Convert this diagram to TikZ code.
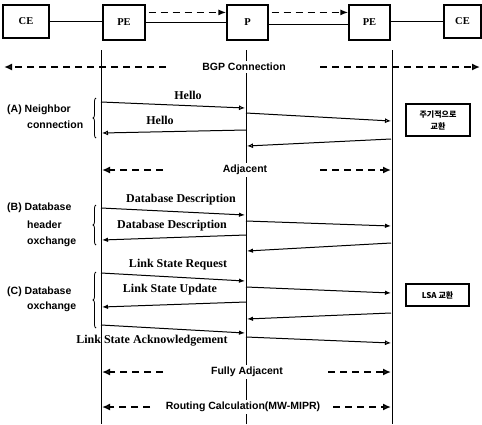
\documentclass[tikz,border=0pt]{standalone}
\usepackage{fontspec}
\setmainfont{Liberation Serif}
\setsansfont{Liberation Sans}
\newfontfamily\krfont{Noto Sans CJK KR}
\usetikzlibrary{arrows.meta,decorations.pathreplacing}
\begin{document}
\begin{tikzpicture}[x=1pt,y=-1pt,
  box/.style={draw,line width=1.2pt,inner sep=0pt,font=\bfseries\fontsize{10.5}{12}\selectfont},
  life/.style={line width=1pt},
  msg/.style={line width=1pt,-{Latex[length=6pt,width=4.5pt]}},
  hmsg/.style={line width=1pt,-{Latex[open,length=6pt,width=5pt]}},
  dsh/.style={line width=1.6pt,dash pattern=on 7pt off 5pt},
  dtip/.style={-{Latex[open,length=8pt,width=7pt]}},
  mlabel/.style={font=\bfseries\fontsize{12}{14}\selectfont,inner sep=0pt},
  slabel/.style={font=\sffamily\bfseries\fontsize{10.5}{12}\selectfont,inner sep=2pt,fill=white},
  seclabel/.style={font=\sffamily\bfseries\fontsize{10.5}{12}\selectfont,inner sep=0pt,anchor=west},
  brc/.style={decorate,decoration={brace,amplitude=3pt},line width=0.8pt},
  krbox/.style={draw,line width=1.2pt,inner sep=0pt,align=center,font=\krfont\bfseries\fontsize{8}{12}\selectfont}
]
\useasboundingbox (0,0) rectangle (482,424);

% top boxes
\node[box,minimum width=46pt,minimum height=33pt] (CE1) at (26,21.5) {CE};
\node[box,minimum width=42pt,minimum height=35pt] (PE1) at (124,22.5) {PE};
\node[box,minimum width=41pt,minimum height=35pt] (P) at (247.5,22.5) {P};
\node[box,minimum width=41pt,minimum height=35pt] (PE2) at (369.5,22.5) {PE};
\node[box,minimum width=37pt,minimum height=33pt] (CE2) at (462.5,21.5) {CE};

\draw[line width=1pt] (CE1.east) -- (CE1.east -| PE1.west);
\draw[line width=1pt] (PE1) -- (P);
\draw[line width=1pt] ([yshift=-2pt]P.east) -- ([yshift=-2pt]P.east -| PE2.west);
\draw[line width=1pt] (PE2.east |- CE2.west) -- (CE2.west);
\draw[dsh,-{Latex[length=8pt,width=6pt]}] ([xshift=3pt,yshift=-8pt]PE1.north east) -- ([yshift=-8pt]P.north west);
\draw[dsh,-{Latex[length=8pt,width=6pt]}] ([xshift=3pt,yshift=-8pt]P.north east) -- ([yshift=-8pt]PE2.north west);

% lifelines
\coordinate (Lt) at (101,50); \coordinate (Lb) at (101,424);
\coordinate (Mt) at (246,50); \coordinate (Mb) at (246,424);
\coordinate (Rt) at (392,50); \coordinate (Rb) at (392,424);
\draw[life] (Lt) -- (Lb);
\draw[life] (Mt) -- (Mb);
\draw[life] (Rt) -- (Rb);

% BGP connection
\node[slabel] (BGP) at (244,67) {BGP Connection};
\coordinate (bgpL1) at (166,67); \coordinate (bgpL2) at (4,67);
\coordinate (bgpR1) at (320,67); \coordinate (bgpR2) at (480,67);
\draw[dsh,dtip] (bgpL1) -- (bgpL2);
\draw[dsh,dtip] (bgpR1) -- (bgpR2);

% (A) Neighbor connection
\node[seclabel] (A1) at (7,110) {(A) Neighbor};
\node[seclabel] (A2) at (27,125) {connection};
\coordinate (bA1) at (96,138); \coordinate (bA2) at (96,98);
\draw[brc] (bA1) -- (bA2);

\coordinate (h1s) at (101,102); \coordinate (h1e) at (245,108);
\coordinate (h2s) at (246,113); \coordinate (h2e) at (391,121);
\coordinate (h3s) at (391,139); \coordinate (h3e) at (247,146);
\coordinate (h4s) at (246,130); \coordinate (h4e) at (102,133);
\draw[hmsg] (h1s) -- (h1e);
\draw[hmsg] (h2s) -- (h2e);
\draw[hmsg] (h3s) -- (h3e);
\draw[hmsg] (h4s) -- (h4e);
\node[mlabel] (hello1) at (188,95) {Hello};
\node[mlabel] (hello2) at (160,120) {Hello};

\node[krbox,minimum width=64pt,minimum height=32pt] (K1) at (438,120) {주기적으로\\교환};

% Adjacent
\node[slabel] (ADJ) at (245,170) {Adjacent};
\coordinate (adL1) at (163,170); \coordinate (adL2) at (102,170);
\coordinate (adR1) at (320,170); \coordinate (adR2) at (391,170);
\draw[dsh,dtip] (adL1) -- (adL2);
\draw[dsh,dtip] (adR1) -- (adR2);

% (B) Database header exchange
\node[seclabel] (B1) at (7,208) {(B) Database};
\node[seclabel] (B2) at (27,225) {header};
\node[seclabel] (B3) at (27,242) {oxchange};
\coordinate (bB1) at (96,245); \coordinate (bB2) at (96,205);
\draw[brc] (bB1) -- (bB2);

\coordinate (d1s) at (101,208); \coordinate (d1e) at (245,215);
\coordinate (d2s) at (246,221); \coordinate (d2e) at (391,226);
\coordinate (d3s) at (391,243); \coordinate (d3e) at (247,251);
\coordinate (d4s) at (246,235); \coordinate (d4e) at (102,240);
\draw[msg] (d1s) -- (d1e);
\draw[msg] (d2s) -- (d2e);
\draw[msg] (d3s) -- (d3e);
\draw[msg] (d4s) -- (d4e);
\node[mlabel] (dd1) at (181,200) {Database Description};
\node[mlabel] (dd2) at (172,226) {Database Description};

% (C) Database exchange
\node[seclabel] (C1) at (7,292) {(C) Database};
\node[seclabel] (C2) at (27,307) {oxchange};
\coordinate (bC1) at (96,328); \coordinate (bC2) at (96,272);
\draw[brc] (bC1) -- (bC2);

\coordinate (r1s) at (101,273); \coordinate (r1e) at (245,281);
\coordinate (r2s) at (246,287); \coordinate (r2e) at (391,293);
\coordinate (u1s) at (391,313); \coordinate (u1e) at (247,319);
\coordinate (u2s) at (246,302); \coordinate (u2e) at (102,307);
\coordinate (a1s) at (101,325); \coordinate (a1e) at (245,333);
\coordinate (a2s) at (246,337); \coordinate (a2e) at (391,343);
\draw[msg] (r1s) -- (r1e);
\draw[msg] (r2s) -- (r2e);
\draw[msg] (u1s) -- (u1e);
\draw[msg] (u2s) -- (u2e);
\draw[msg] (a1s) -- (a1e);
\draw[hmsg] (a2s) -- (a2e);
\node[mlabel] (lsr) at (178,265) {Link State Request};
\node[mlabel] (lsu) at (170,290) {Link State Update};
\node[mlabel] (lsa) at (152,341) {Link State Acknowledgement};

\node[krbox,minimum width=63pt,minimum height=22pt] (K2) at (437.5,295) {LSA 교환};

% Fully Adjacent
\node[slabel] (FA) at (247,372) {Fully Adjacent};
\coordinate (faL1) at (163,372); \coordinate (faL2) at (102,372);
\coordinate (faR1) at (328,372); \coordinate (faR2) at (391,372);
\draw[dsh,dtip] (faL1) -- (faL2);
\draw[dsh,dtip] (faR1) -- (faR2);

% Routing Calculation
\node[slabel] (RC) at (243,407) {Routing Calculation(MW-MIPR)};
\coordinate (rcL1) at (150,407); \coordinate (rcL2) at (102,407);
\coordinate (rcR1) at (333,407); \coordinate (rcR2) at (391,407);
\draw[dsh,dtip] (rcL1) -- (rcL2);
\draw[dsh,dtip] (rcR1) -- (rcR2);
\end{tikzpicture}
\end{document}
